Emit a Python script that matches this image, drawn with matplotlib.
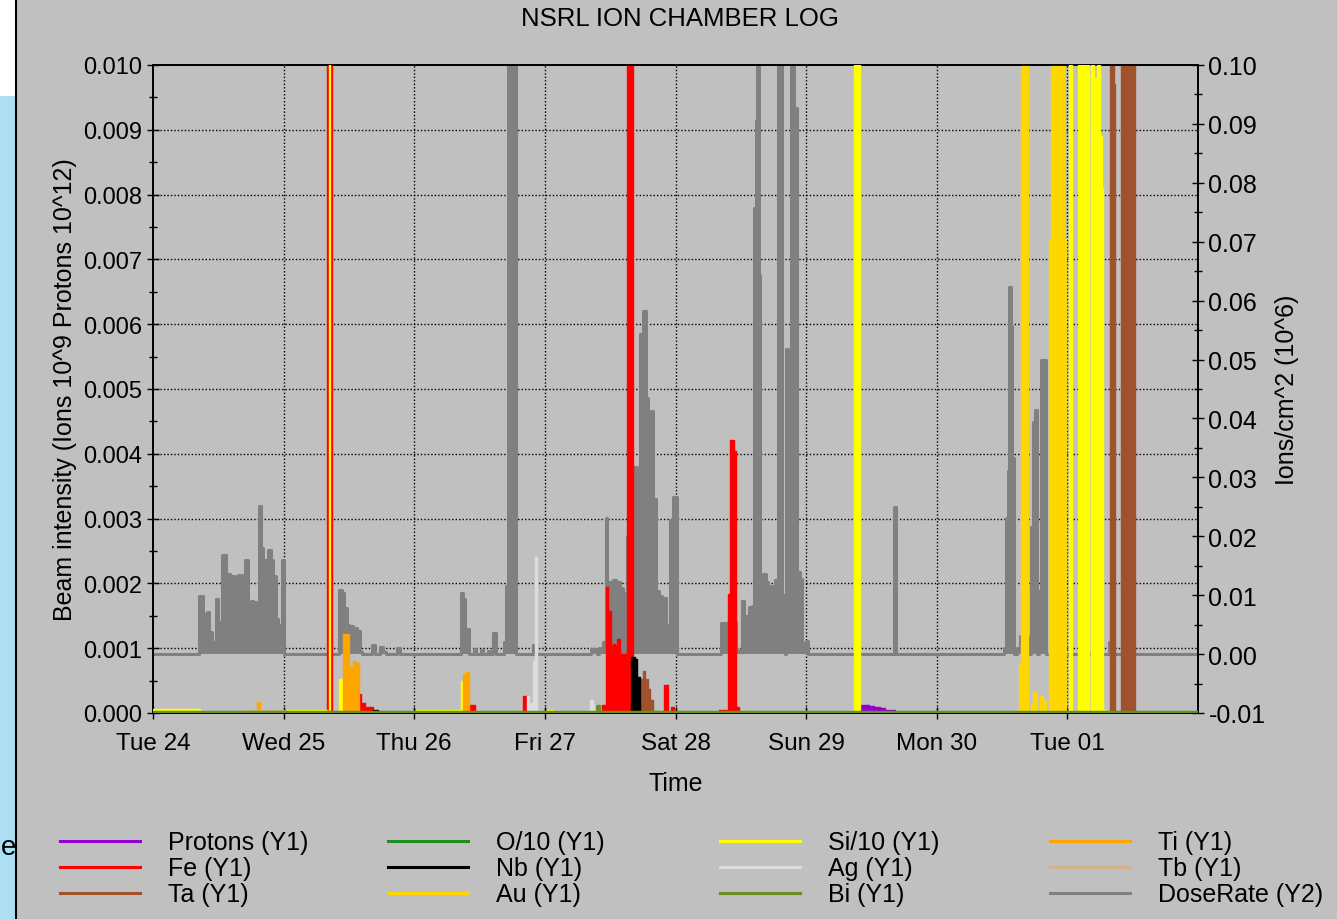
import matplotlib
matplotlib.use('Agg')
import matplotlib.pyplot as plt
from matplotlib.lines import Line2D
from matplotlib.patches import Rectangle
from matplotlib.ticker import MultipleLocator, FormatStrFormatter

plt.rcParams['font.family'] = ['Liberation Sans', 'DejaVu Sans']
plt.rcParams['axes.unicode_minus'] = False

# ---------------- data (time in hours since Tue 24 00:00) ----------------
day_hours = [0, 24, 48, 72, 96, 120, 144, 168]
day_labels = ['Tue 24', 'Wed 25', 'Thu 26', 'Fri 27', 'Sat 28', 'Sun 29', 'Mon 30', 'Tue 01']

protons_t = [0, 129.9, 131.5, 132.5, 133.5, 134.5, 136.3, 192]
protons_v = [0, 0.00012, 0.00011, 0.00009, 0.00007, 0.00005, 0.0, 0]

fe_t = [0, 31.9, 32.8, 37.5, 38.2, 38.9, 40.5, 58.0, 59.2, 68.0, 68.8,
        82.5, 83.2, 83.6, 84.1, 84.5, 84.9, 85.3, 85.8, 87.0, 88.1,
        93.9, 94.7, 95.1, 95.7, 104.0, 105.6, 106.0, 106.7, 107.1, 107.6, 192]
fe_v = [0, 0.012, 0.0, 0.00029, 0.00015, 0.00010, 0.0, 0.00012, 0.0, 0.00027, 0.0,
        0.00012, 0.00194, 0.00158, 0.00104, 0.00107, 0.00104, 0.00114, 0.00091, 0.012, 0.0,
        0.00043, 0.0, 0.00010, 0.0, 0.00005, 0.00184, 0.00421, 0.00405, 0.00010, 0.0, 0]

ta_t = [0, 89.5, 90.0, 90.4, 91.0, 91.4, 91.9, 175.9, 176.5, 176.7, 177.8, 180.4, 192]
ta_v = [0, 0.00052, 0.00065, 0.00052, 0.00037, 0.00020, 0.0, 0.012, 0.0097, 0.0, 0.012, 0.0, 0]

o10_t = [0, 192]
o10_v = [0, 0]

nb_t = [0, 40.5, 41.3, 87.8, 88.6, 89.0, 89.5, 192]
nb_v = [0, 0.00004, 0.0, 0.00086, 0.00083, 0.00055, 0.0, 0]

au_t = [0, 159.2, 159.4, 160.8, 161.4, 161.7, 162.2, 162.5, 163.0, 163.5, 164.0,
        164.6, 164.9, 167.3, 167.8, 192]
au_v = [0, 0.00076, 0.012, 0.0, 0.00015, 0.00032, 0.00025, 0.0, 0.00026, 0.00018, 0.0,
        0.0073, 0.012, 0.0073, 0.0, 0]

si_t = [0, 8.6, 24.6, 31.9, 32.4, 32.5, 34.2, 34.9, 48.4, 56.6, 57.0, 72.3, 73.5,
        128.8, 129.9, 168.3, 168.8, 170.0, 170.8, 171.0, 171.9, 172.3, 172.8, 173.1,
        173.5, 174.0, 174.4, 174.6, 175.0, 192]
si_v = [0.00006, 0.0, 0.00005, 0.0, 0.012, 0.0, 0.00052, 0.0, 0.00004, 0.0005, 0.0, 0.00004, 0.0,
        0.012, 0.0, 0.012, 0.0, 0.012, 0.0077, 0.012, 0.0, 0.012, 0.0072, 0.0098,
        0.012, 0.0089, 0.0081, 0.00005, 0.0, 0]

ag_t = [0, 68.8, 69.1, 69.8, 70.2, 70.6, 80.3, 80.8, 81.4, 192]
ag_v = [0, 0.00027, 0.00015, 0.0008, 0.0024, 0.0, 0.0002, 0.00012, 0.0, 0]

bi_t = [0, 81.5, 82.0, 192]
bi_v = [0.00002, 0.00011, 0.00002, 0.00002]

ti_t = [0, 19.1, 19.7, 35.0, 36.1, 36.7, 37.3, 37.8, 57.0, 57.5, 58.0, 192]
ti_v = [0, 0.00017, 0.0, 0.00122, 0.00071, 0.0008, 0.00077, 0.0, 0.0006, 0.00064, 0.0, 0]

tb_t = [0, 17.2, 24.0, 192]
tb_v = [0, 0.00004, 0.0, 0]

dose_t = [0,
          8.5, 9.1, 9.9, 10.3, 10.8, 11.6, 12.0, 12.6, 13.4, 14.2, 15.1, 15.7, 16.3, 16.9,
          17.5, 18.0, 18.4, 18.9, 19.5, 19.9, 20.3, 20.8, 21.2, 21.6, 22.1, 22.6, 23.0, 23.7, 24.1,
          34.25, 34.7, 35.1, 35.6, 36.1, 36.8, 37.4, 38.05, 38.4, 40.2, 40.8, 41.7, 42.2, 42.9,
          44.8, 45.3,
          56.5, 57.0, 57.4, 58.0, 59.0, 59.4, 60.3, 60.7, 61.5, 61.9, 62.5, 63.0, 64.5, 64.8,
          65.3, 66.7, 69.9, 70.3,
          80.5, 81.5, 82.0, 82.7, 83.2, 83.5, 84.6, 85.1, 85.8, 86.4, 87.0, 88.1, 88.4, 89.0,
          89.5, 90.0, 90.5, 91.0, 91.5, 91.9, 92.2, 92.5, 93.0, 93.5, 93.8, 94.2, 94.8, 95.0,
          95.5, 96.2,
          104.3, 105.6, 107.1, 108.2, 108.6, 109.5, 110.1, 110.5, 110.7, 111.0, 111.4, 111.6,
          112.0, 112.6, 113.0, 113.7, 114.3, 114.8, 115.5, 116.1, 116.3, 116.7, 117.2, 117.8,
          118.1, 118.4, 118.9, 119.2, 119.9, 120.3,
          136.1, 136.6,
          156.3, 156.7, 157.0, 157.3, 157.6, 157.9, 158.2, 158.8, 159.3, 160.8, 161.3, 161.6,
          162.0, 162.5, 162.8, 163.1, 164.1, 172.8, 173.7, 175.7, 176.0, 192]
dose_v = [0,
          0.0099, 0.0068, 0.0072, 0.0037, 0.0020, 0.0093, 0.0054, 0.0168, 0.0136, 0.0133, 0.0130, 0.0134, 0.0040, 0.0160,
          0.0055, 0.0090, 0.0088, 0.0070, 0.0251, 0.0180, 0.0160, 0.0072, 0.0176, 0.0160, 0.0133, 0.0060, 0.0050, 0.0160, 0.0,
          0.0109, 0.0104, 0.0079, 0.0050, 0.0048, 0.0045, 0.0040, 0.0004, 0.0, 0.0016, 0.0, 0.0012, 0.0004, 0.0,
          0.0010, 0.0,
          0.0104, 0.0093, 0.0042, 0.0, 0.0008, 0.0, 0.0007, 0.0, 0.0006, 0.0, 0.0036, 0.0, 0.0020, 0.0115,
          0.12, 0.0, 0.0015, 0.0,
          0.0008, 0.0, 0.0010, 0.0020, 0.0231, 0.0122, 0.0125, 0.0122, 0.0113, 0.0104, 0.0200, 0.0234, 0.0317, 0.0148,
          0.0543, 0.0582, 0.0435, 0.0372, 0.0412, 0.0220, 0.0263, 0.0107, 0.0098, 0.0010, 0.0095, 0.0049, 0.0010, 0.0227,
          0.0267, 0.0,
          0.0053, 0.0054, 0.0007, 0.0090, 0.0064, 0.0080, 0.0082, 0.0757, 0.0905, 0.12, 0.0644, 0.0111,
          0.0136, 0.0122, 0.0115, 0.0094, 0.0125, 0.12, 0.0100, 0.0, 0.0518, 0.0463, 0.12, 0.0757,
          0.0927, 0.0140, 0.0128, 0.0018, 0.0022, 0.0,
          0.0250, 0.0,
          0.0010, 0.0231, 0.0310, 0.0623, 0.0557, 0.0333, 0.0, 0.0010, 0.0030, 0.0, 0.0216, 0.0394,
          0.0414, 0.0, 0.0107, 0.0500, 0.0, 0.0086, 0.0, 0.0020, 0.0, 0]

y1_series = [
    ("Protons (Y1)", protons_t, protons_v, '#9400D3'),
    ("Fe (Y1)", fe_t, fe_v, '#FF0000'),
    ("Ta (Y1)", ta_t, ta_v, '#A0522D'),
    ("O/10 (Y1)", o10_t, o10_v, '#1E8C1E'),
    ("Nb (Y1)", nb_t, nb_v, '#000000'),
    ("Au (Y1)", au_t, au_v, '#FFD700'),
    ("Si/10 (Y1)", si_t, si_v, '#FFFF00'),
    ("Ag (Y1)", ag_t, ag_v, '#DCDCDC'),
    ("Bi (Y1)", bi_t, bi_v, '#6B8E23'),
    ("Ti (Y1)", ti_t, ti_v, '#FFA500'),
    ("Tb (Y1)", tb_t, tb_v, '#D2B48C'),
]
dose_label = "DoseRate (Y2)"
dose_color = '#808080'

# ---------------- figure ----------------
BG = '#C0C0C0'
W, H = 1337, 920
fig = plt.figure(figsize=(W / 100, H / 100), dpi=100, facecolor=BG)

# left clipped page strip
fig.add_artist(Rectangle((0, 0), 16 / W, (H - 97) / H, transform=fig.transFigure,
                         facecolor='#ADDFF2', edgecolor='none'))
fig.add_artist(Rectangle((0, 1 - 97 / H), 16 / W, 97 / H, transform=fig.transFigure,
                         facecolor='white', edgecolor='none'))
fig.add_artist(Line2D([16 / W, 16 / W], [0, 1], transform=fig.transFigure, color='black', lw=1.5))
fig.text(1 / W, 1 - 848 / H, 'e', fontsize=20, ha='left', va='center')

ax = fig.add_axes([153 / W, 1 - 714 / H, (1198 - 153) / W, (714 - 66) / H])
ax2 = ax.twinx()
ax.set_zorder(ax2.get_zorder() + 1)
ax.patch.set_visible(False)

# DoseRate behind
ax2.fill_between(dose_t, dose_v, 0, step='post', color=dose_color, lw=0)
ax2.step(dose_t, dose_v, where='post', color=dose_color, lw=2.2)
ax2.set_ylim(-0.01, 0.10)

# grid (on the back axes)
for d in day_hours[1:]:
    ax2.axvline(d, color='black', lw=1.0, ls=(0, (1, 1.5)), zorder=0)
y1_ticks = [i / 1000 for i in range(1, 10)]
for yv in y1_ticks:
    ax2.add_line(Line2D([0, 1], [yv, yv], transform=ax.get_yaxis_transform(),
                        color='black', lw=1.0, ls=(0, (1, 1.5)), zorder=0))

# Y1 series
handles = []
for i, (name, t, v, c) in enumerate(y1_series):
    z = 10 if name.startswith('Bi') else 2 + i * 0.1
    ax.fill_between(t, v, 0, step='post', color=c, lw=0, zorder=z)
    lw = 2.5 if name.startswith('Bi') else 1.0
    ax.step(t, v, where='post', color=c, lw=lw, zorder=z)
    handles.append((name, c))
handles.append((dose_label, dose_color))

ax.set_xlim(0, 192)
ax.set_ylim(0, 0.010)
ax.set_xticks(day_hours)
ax.set_xticklabels(day_labels)
ax.yaxis.set_major_locator(MultipleLocator(0.001))
ax.yaxis.set_minor_locator(MultipleLocator(0.0005))
ax.yaxis.set_major_formatter(FormatStrFormatter('%.3f'))
ax2.yaxis.set_major_locator(MultipleLocator(0.01))
ax2.yaxis.set_minor_locator(MultipleLocator(0.005))
ax2.yaxis.set_major_formatter(FormatStrFormatter('%.2f'))

ax.tick_params(axis='y', which='major', direction='inout', length=9, width=1, labelsize=17, pad=3)
ax.tick_params(axis='y', which='minor', direction='inout', length=6, width=1)
ax.tick_params(axis='x', direction='inout', length=8, width=1, labelsize=17.5, pad=10)
ax2.tick_params(axis='y', which='major', direction='inout', length=9, width=1, labelsize=18, pad=3)
ax2.tick_params(axis='y', which='minor', direction='inout', length=6, width=1)

for a in (ax, ax2):
    for s in a.spines.values():
        s.set_color('black')
        s.set_linewidth(1.3)

ax.set_ylabel('Beam intensity (Ions 10^9 Protons 10^12)', fontsize=18, labelpad=5)
ax2.set_ylabel('Ions/cm^2 (10^6)', fontsize=18, labelpad=7)
ax.set_xlabel('Time', fontsize=18, labelpad=12)
fig.text(680 / W, 1 - 19 / H, 'NSRL ION CHAMBER LOG', fontsize=18.5, ha='center', va='center')

# legend (manual, column-major 3 rows x 4 columns)
col_x = [60, 388, 720, 1050]
row_y = [842, 868, 894]
for k, (name, c) in enumerate(handles):
    col, row = divmod(k, 3)
    x0 = col_x[col]
    y0 = row_y[row]
    fig.add_artist(Line2D([x0 / W, (x0 + 80) / W], [1 - y0 / H, 1 - y0 / H],
                          transform=fig.transFigure, color=c, lw=2.2))
    fig.text((x0 + 108) / W, 1 - (y0 + 1) / H, name, fontsize=18, ha='left', va='center')

fig.savefig('out.png', dpi=100, facecolor=BG)
